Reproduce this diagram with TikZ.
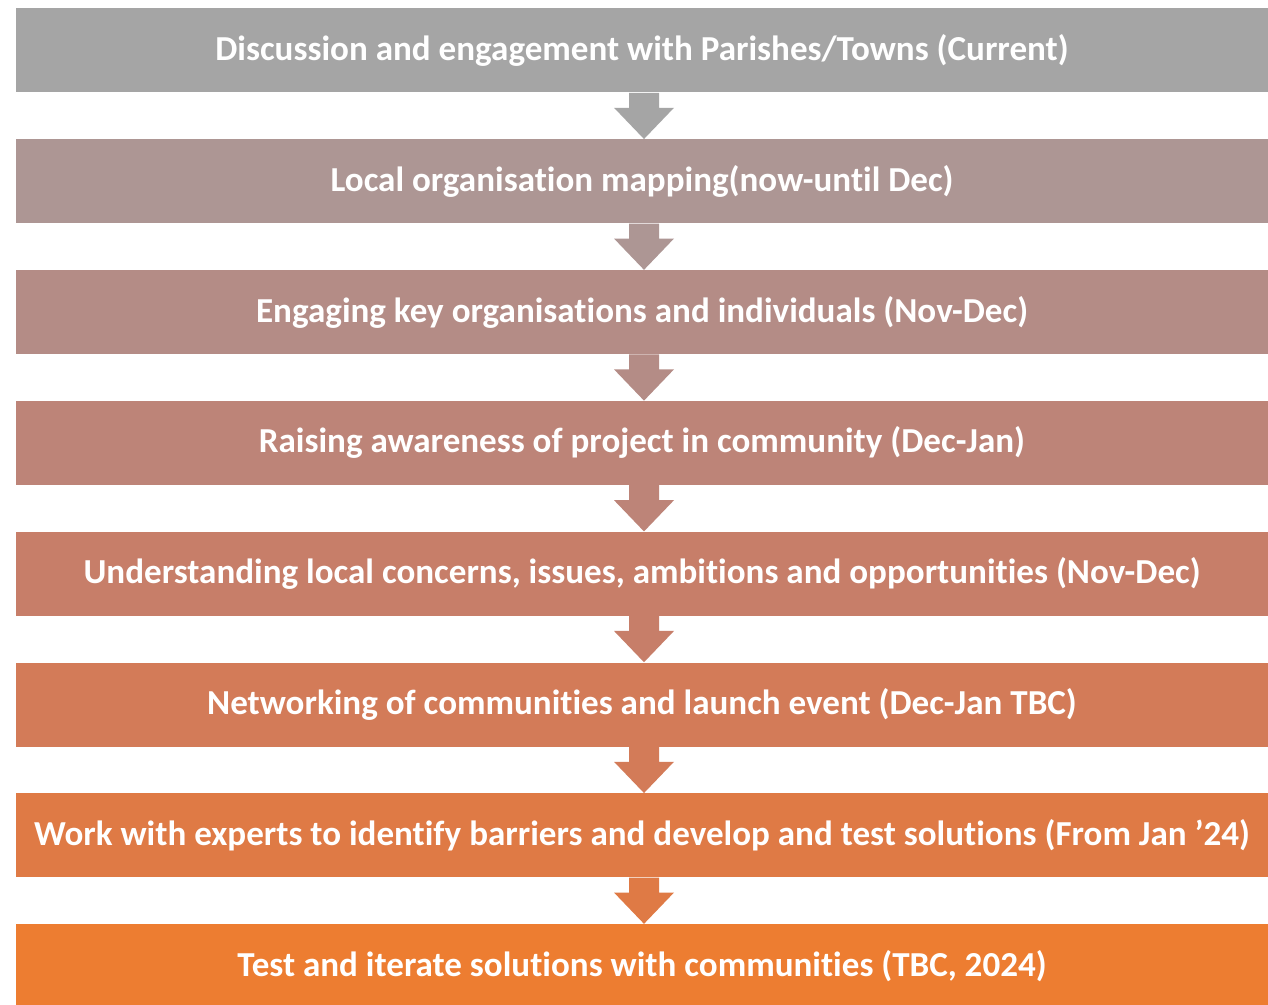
\documentclass[tikz,border=0pt]{standalone}
\usepackage{fontspec}
\setmainfont[Ligatures={NoCommon,NoRare,NoContextual}]{Carlito}
\usetikzlibrary{calc}
\definecolor{c1}{HTML}{A5A5A5}
\definecolor{c2}{HTML}{AD9694}
\definecolor{c3}{HTML}{B48C86}
\definecolor{c4}{HTML}{BD8478}
\definecolor{c5}{HTML}{C77E69}
\definecolor{c6}{HTML}{D37B58}
\definecolor{c7}{HTML}{DF7A45}
\definecolor{c8}{HTML}{ED7D31}
\tikzset{
  stagebox/.style={rectangle, inner sep=0pt, minimum width=1252*0.75pt, minimum height=84*0.75pt,
    text=white, font=\fontsize{26.3}{30}\selectfont\bfseries, anchor=center},
}
\newcommand{\downarrowshape}[3]{%
  \fill[#3] ($(#1.south)+(-13,0)$) -- ($(#1.south)+(-13,15)$) -- ($(#1.south)+(-28,15)$)
    -- ($(#2.north)+(2,0)$) -- ($(#1.south)+(32,15)$) -- ($(#1.south)+(17,15)$)
    -- ($(#1.south)+(17,0)$) -- cycle;}
\begin{document}
\begin{tikzpicture}[x=0.75pt,y=-0.75pt]
\useasboundingbox[fill=white] (0,0) rectangle (1268,1005);
\node[stagebox, fill=c1] (b1) at (642,50.5) {Discussion and engagement with Parishes/Towns (Current)};
\node[stagebox, fill=c2] (b2) at (642,181.3) {Local organisation mapping(now-until Dec)};
\node[stagebox, fill=c3] (b3) at (642,312.1) {Engaging key organisations and individuals (Nov-Dec)};
\node[stagebox, fill=c4] (b4) at (642,442.9) {Raising awareness of project in community (Dec-Jan)};
\node[stagebox, fill=c5] (b5) at (642,573.7) {Understanding local concerns, issues, ambitions and opportunities (Nov-Dec)};
\node[stagebox, fill=c6] (b6) at (642,704.5) {Networking of communities and launch event (Dec-Jan TBC)};
\node[stagebox, fill=c7] (b7) at (642,835.3) {Work with experts to identify barriers and develop and test solutions (From Jan ’24)};
\node[stagebox, fill=c8] (b8) at (642,966.1) {Test and iterate solutions with communities (TBC, 2024)};
\downarrowshape{b1}{b2}{c1}
\downarrowshape{b2}{b3}{c2}
\downarrowshape{b3}{b4}{c3}
\downarrowshape{b4}{b5}{c4}
\downarrowshape{b5}{b6}{c5}
\downarrowshape{b6}{b7}{c6}
\downarrowshape{b7}{b8}{c7}
\end{tikzpicture}
\end{document}
